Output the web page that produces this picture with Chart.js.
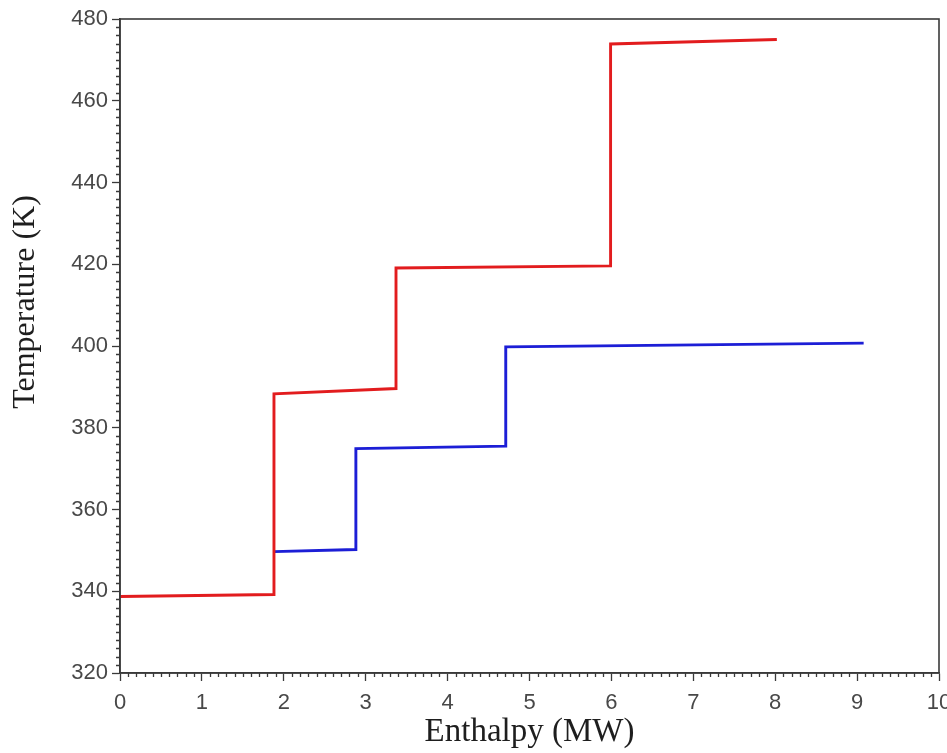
<!DOCTYPE html>
<html>
<head>
<meta charset="utf-8">
<title>Temperature vs Enthalpy</title>
<script src="https://cdn.jsdelivr.net/npm/chart.js@4.4.1/dist/chart.umd.min.js"></script>
<style>
  html, body { margin: 0; padding: 0; background: #fff; }
  #wrap { width: 947px; height: 753px; }
</style>
</head>
<body>
<div id="wrap"><canvas id="tempChart" width="947" height="753"></canvas></div>
<script>
// hot stream (red) and cold stream (blue) composite steps
var hotEnthalpy = [0, 1.88, 1.88, 3.37, 3.37, 5.99, 5.99, 8.02];
var hotTemp     = [338.7, 339.2, 388.3, 389.6, 419.1, 419.6, 473.9, 475.0];

var coldEnthalpy = [1.88, 2.88, 2.88, 4.71, 4.71, 9.08];
var coldTemp     = [349.7, 350.2, 374.9, 375.5, 399.8, 400.7];

var xTicks = [0, 1, 2, 3, 4, 5, 6, 7, 8, 9, 10];
var yTicks = [320, 340, 360, 380, 400, 420, 440, 460, 480];

function toPoints(xs, ys) {
    return xs.map(function (x, i) { return { x: x, y: ys[i] }; });
}

// frame around the plot plus the small minor ticks outside the axes
var frameAndMinorTicks = {
    id: 'frameAndMinorTicks',
    afterDraw: function (chart) {
        var ctx = chart.ctx;
        var area = chart.chartArea;
        var xs = chart.scales.x;
        var ys = chart.scales.y;
        ctx.save();
        ctx.strokeStyle = '#3a3a3a';
        ctx.lineWidth = 1.3;
        ctx.beginPath();
        for (var i = 0; i <= 100; i++) {
            if (i % 10 === 0) continue;
            var px = Math.round(xs.getPixelForValue(i / 10)) + 0.5;
            ctx.moveTo(px, area.bottom);
            ctx.lineTo(px, area.bottom + 4);
        }
        for (var v = 320; v <= 480; v += 2) {
            if (v % 20 === 0) continue;
            var py = Math.round(ys.getPixelForValue(v)) + 0.5;
            ctx.moveTo(area.left, py);
            ctx.lineTo(area.left - 4, py);
        }
        ctx.stroke();
        ctx.lineWidth = 1.6;
        ctx.strokeRect(area.left, area.top, area.right - area.left, area.bottom - area.top);
        ctx.restore();
    }
};

var ctx = document.getElementById('tempChart').getContext('2d');
var chart = new Chart(ctx, {
    type: 'line',
    data: {
        datasets: [{
            data: toPoints(hotEnthalpy, hotTemp),
            borderColor: 'rgb(226, 28, 30)',
            borderWidth: 2.9,
            pointRadius: 0,
            fill: false,
            tension: 0
        }, {
            data: toPoints(coldEnthalpy, coldTemp),
            borderColor: 'rgb(28, 30, 214)',
            borderWidth: 2.9,
            pointRadius: 0,
            fill: false,
            tension: 0
        }]
    },
    options: {
        responsive: false,
        animation: false,
        layout: { padding: { top: 19, right: 8, left: 0, bottom: 0 } },
        plugins: {
            legend: { display: false },
            tooltip: { enabled: false }
        },
        scales: {
            x: {
                type: 'linear',
                min: 0,
                max: 10,
                afterBuildTicks: function (scale) {
                    scale.ticks = xTicks.map(function (v) { return { value: v }; });
                },
                afterFit: function (scale) {
                    scale.paddingRight = 0;
                    scale.paddingLeft = 0;
                    scale.height = 80;
                },
                grid: {
                    drawOnChartArea: false,
                    tickLength: 8,
                    tickColor: '#3a3a3a',
                    tickWidth: 1.3
                },
                border: { display: true, color: '#3a3a3a', width: 1.6 },
                ticks: {
                    color: '#484848',
                    padding: 9,
                    font: { family: '"Liberation Sans", Arial, sans-serif', size: 22 }
                },
                title: {
                    display: true,
                    text: 'Enthalpy (MW)',
                    color: '#1e1e1e',
                    padding: { top: 0, bottom: 1 },
                    font: { family: '"Liberation Serif", "Times New Roman", serif', size: 33 }
                }
            },
            y: {
                type: 'linear',
                min: 320,
                max: 480,
                afterBuildTicks: function (scale) {
                    scale.ticks = yTicks.map(function (v) { return { value: v }; });
                },
                afterFit: function (scale) {
                    scale.width = 120;
                },
                grid: {
                    drawOnChartArea: false,
                    tickLength: 8,
                    tickColor: '#3a3a3a',
                    tickWidth: 1.3
                },
                border: { display: true, color: '#3a3a3a', width: 1.6 },
                ticks: {
                    color: '#484848',
                    padding: 4,
                    font: { family: '"Liberation Sans", Arial, sans-serif', size: 22 }
                },
                title: {
                    display: true,
                    // leading spaces lift the rotated title above the axis middle
                    text: '\u00a0'.repeat(11) + 'Temperature (K)',
                    color: '#1e1e1e',
                    padding: { top: 6, bottom: 0 },
                    font: { family: '"Liberation Serif", "Times New Roman", serif', size: 32 }
                }
            }
        }
    },
    plugins: [frameAndMinorTicks]
});
</script>
</body>
</html>
